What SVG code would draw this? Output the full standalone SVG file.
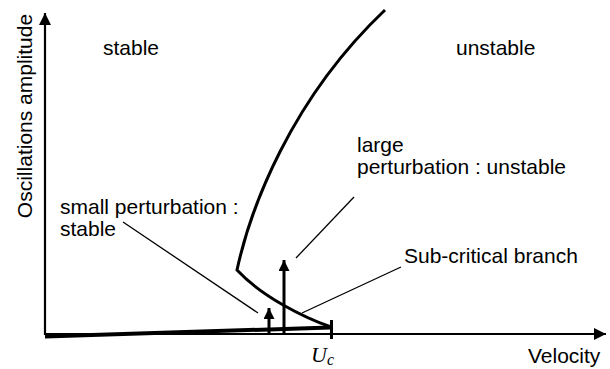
<svg xmlns="http://www.w3.org/2000/svg" width="610" height="369" viewBox="0 0 610 369">
<style>
text{font-family:"Liberation Sans",Arial,sans-serif;font-size:21px;fill:#000}
.thin{stroke:#000;stroke-width:1.3;fill:none}
.thick{stroke:#000;stroke-width:3;fill:none}
.axis{stroke:#000;stroke-width:2.2;fill:none}
</style>
<defs>
<marker id="ah" markerWidth="12" markerHeight="12" refX="10" refY="5" orient="auto" markerUnits="userSpaceOnUse" viewBox="0 0 10 10">
<path d="M0,0 L10,5 L0,10 z" fill="#000"/>
</marker>
<marker id="ah2" markerWidth="12" markerHeight="11" refX="10" refY="5" orient="auto" markerUnits="userSpaceOnUse" viewBox="0 0 10 10">
<path d="M0,0 L10,5 L0,10 z" fill="#000"/>
</marker>
</defs>
<g id="axes">
<line class="axis" x1="45" y1="335" x2="45" y2="13" marker-end="url(#ah)"/>
<line class="axis" x1="44" y1="334" x2="606" y2="334" marker-end="url(#ah)"/>
</g>
<g id="curves">
<path d="M45,336.5 L330,327.5" stroke="#000" stroke-width="4" fill="none"/>
<path class="thick" d="M331,327 C305,318 262,297 237,270 C250,210 290,100 385,10"/>
<line x1="331.5" y1="320" x2="331.5" y2="339" stroke="#000" stroke-width="3"/>
</g>
<g id="connectors">
<line class="thin" x1="123" y1="222" x2="258" y2="313"/>
<line class="thin" x1="354" y1="197" x2="296" y2="258"/>
<line class="thin" x1="401" y1="267" x2="302" y2="313"/>
<line class="thick" x1="269" y1="333" x2="269" y2="308" marker-end="url(#ah2)"/>
<line class="thick" x1="284" y1="333" x2="284" y2="260" marker-end="url(#ah2)"/>
</g>
<g id="labels">
<text x="32" y="116" text-anchor="middle" transform="rotate(-90 32 116)">Oscillations amplitude</text>
<text x="103" y="55">stable</text>
<text x="456" y="55">unstable</text>
<text x="357" y="152">large</text>
<text x="357" y="174">perturbation : unstable</text>
<text x="60" y="214">small perturbation :</text>
<text x="60" y="236">stable</text>
<text x="404" y="263">Sub-critical branch</text>
<text x="528" y="363">Velocity</text>
<text x="311" y="362" style="font-family:'Liberation Serif','Times New Roman',serif;font-style:italic;font-size:22px">U<tspan font-size="16" dy="3">c</tspan></text>
</g>
</svg>
